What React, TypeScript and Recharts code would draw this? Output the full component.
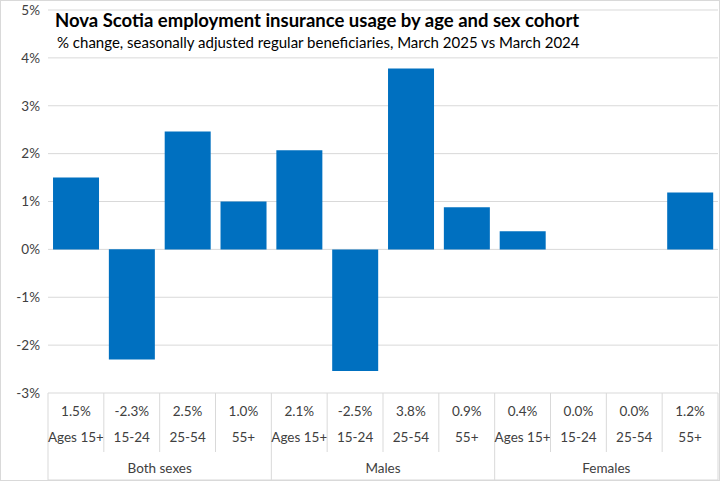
import React from "react"
import { BarChart, Bar, XAxis, YAxis, CartesianGrid } from "recharts"

const ageGroups = ["Ages 15+", "15-24", "25-54", "55+", "Ages 15+", "15-24", "25-54", "55+", "Ages 15+", "15-24", "25-54", "55+"]
const sexGroups = ["Both sexes", "Males", "Females"]
const changes = [1.5, -2.3, 2.46, 1.0, 2.07, -2.54, 3.78, 0.88, 0.38, 0.0, 0.0, 1.19]
const yTicks = [-3, -2, -1, 0, 1, 2, 3, 4, 5]

const data = ageGroups.map((age, i) => ({
  key: `${i}`,
  age,
  sex: sexGroups[Math.floor(i / 4)],
  change: changes[i],
}))

const W = 720
const H = 481
const PLOT_LEFT = 48
const PLOT_RIGHT = 718
const PLOT_TOP = 10
const PLOT_BOTTOM = 393
const TABLE_BOTTOM = 480
const CAT_W = (PLOT_RIGHT - PLOT_LEFT) / data.length
const GRID = "#d9d9d9"
const FONT = "Lato, 'Noto Sans', sans-serif"
const TEXT = "#404040"

function TableTick(props: any) {
  const { x, index } = props
  const d = data[index]
  const x0 = x - CAT_W / 2
  const groupStart = index % 4 === 0
  return (
    <g>
      <line x1={x0} x2={x0} y1={PLOT_BOTTOM} y2={groupStart ? TABLE_BOTTOM : 452} stroke={GRID} />
      {index === data.length - 1 && (
        <line x1={x0 + CAT_W} x2={x0 + CAT_W} y1={PLOT_BOTTOM} y2={TABLE_BOTTOM} stroke={GRID} />
      )}
      <text x={x} y={416} textAnchor="middle" fontSize={13.5} fill={TEXT} fontFamily={FONT}>
        {d.change.toFixed(1) + "%"}
      </text>
      <text x={x} y={442} textAnchor="middle" fontSize={13.5} fill={TEXT} fontFamily={FONT}>
        {d.age}
      </text>
      {groupStart && (
        <text x={x0 + CAT_W * 2} y={473} textAnchor="middle" fontSize={13.5} fill={TEXT} fontFamily={FONT}>
          {d.sex}
        </text>
      )}
      {index === 0 && (
        <line x1={PLOT_LEFT} x2={PLOT_RIGHT} y1={TABLE_BOTTOM} y2={TABLE_BOTTOM} stroke={GRID} />
      )}
    </g>
  )
}

export default function App() {
  return (
    <div style={{ position: "absolute", left: 0, top: 0, width: W, height: H, background: "#fff" }}>
      <div style={{ position: "absolute", inset: 0, border: "1px solid #d9d9d9", boxSizing: "border-box" }} />
      <BarChart
        width={W}
        height={H}
        data={data}
        margin={{ top: PLOT_TOP, right: W - PLOT_RIGHT, bottom: 0, left: 0 }}
        barCategoryGap="9%"
      >
        <CartesianGrid vertical={false} stroke={GRID} />
        <YAxis
          width={PLOT_LEFT}
          domain={[-3, 5]}
          ticks={yTicks}
          interval={0}
          axisLine={false}
          tickLine={false}
          tickFormatter={(v: number) => `${v}%`}
          tick={{ fontSize: 13.5, fill: TEXT, fontFamily: FONT }}
        />
        <XAxis
          dataKey="key"
          interval={0}
          axisLine={false}
          tickLine={false}
          height={H - PLOT_BOTTOM}
          tick={<TableTick />}
        />
        <Bar dataKey="change" fill="#0070c0" isAnimationActive={false} />
      </BarChart>
      <div
        style={{
          position: "absolute",
          left: 55,
          top: 9,
          fontFamily: FONT,
          fontWeight: 700,
          fontSize: 18.5,
          color: "#000",
          whiteSpace: "nowrap",
        }}
      >
        Nova Scotia employment insurance usage by age and sex cohort
      </div>
      <div
        style={{
          position: "absolute",
          left: 57,
          top: 33,
          fontFamily: FONT,
          fontSize: 15,
          color: "#000",
          whiteSpace: "nowrap",
        }}
      >
        % change, seasonally adjusted regular beneficiaries, March 2025 vs March 2024
      </div>
    </div>
  )
}
